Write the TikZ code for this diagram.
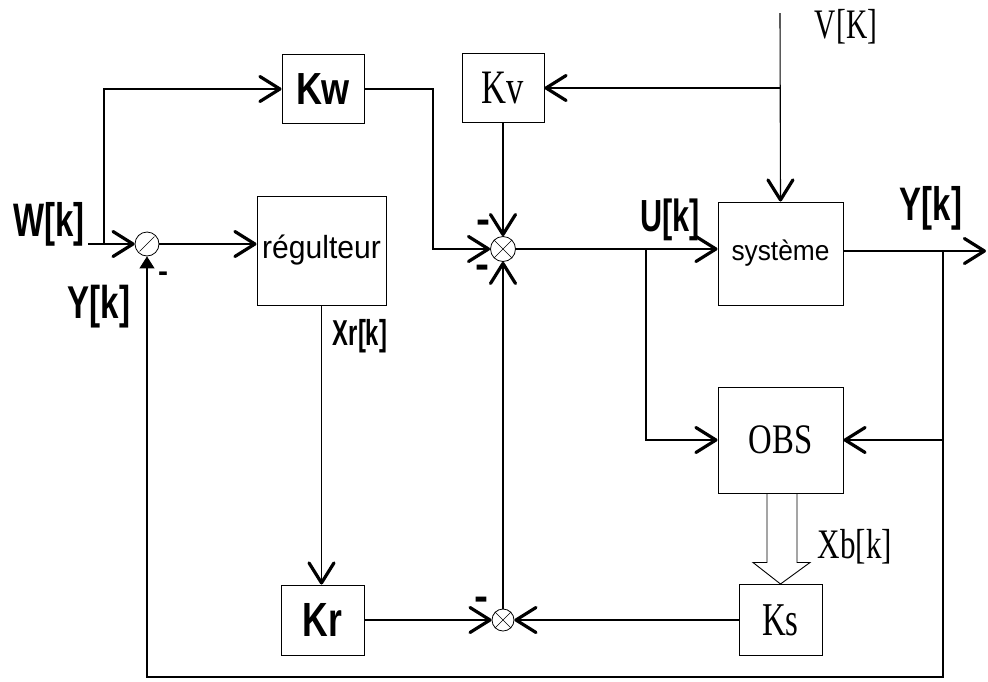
\documentclass[tikz,border=0pt]{standalone}
\usepackage{fontspec}
\setmainfont{Liberation Serif}
\setsansfont{Liberation Sans}
\usetikzlibrary{arrows.meta,calc}
\newcommand\sqz[2]{\scalebox{#1}[1]{#2}}
\newcommand\fs[1]{\fontsize{#1}{#1}\selectfont}
\begin{document}
\begin{tikzpicture}[x=1pt,y=-1pt,
  line width=1.1pt,
  box/.style={draw,line width=1pt,inner sep=0pt,anchor=center},
  sumj/.style={draw,circle,minimum size=24pt,inner sep=0pt,line width=0.8pt},
  barb/.style={-{Straight Barb[length=20pt,width=25pt,line width=3.2pt,round]}},
  tri/.style={-{Triangle[length=12pt,width=15pt]}},
  lab/.style={inner sep=0pt,anchor=center},
  bsans/.style={font=\sffamily\bfseries},
  minus/.style={inner sep=0pt,anchor=center,font=\sffamily\bfseries\fs{42}}]
\useasboundingbox (0,0) rectangle (988,681);

% blocks
\node[box,minimum width=82pt,minimum height=69pt] (kw) at (323,89) {\sffamily\bfseries\fs{45}\sqz{0.8}{Kw}};
\node[box,minimum width=82pt,minimum height=69pt] (kv) at (503,88) {\fs{48}\sqz{0.72}{Kv}};
\node[box,minimum width=129pt,minimum height=109pt] (reg) at (321.5,250.5) {\sffamily\fs{32}\sqz{0.94}{régulteur}};
\node[box,minimum width=125pt,minimum height=103pt] (sys) at (780.5,253.5) {\sffamily\fs{28}\sqz{0.94}{système}};
\node[box,minimum width=125pt,minimum height=106pt] (obs) at (780.5,440) {\fs{42}\sqz{0.78}{OBS}};
\node[box,minimum width=83pt,minimum height=70pt] (kr) at (322.5,620) {\sffamily\bfseries\fs{48}\sqz{0.74}{Kr}};
\node[box,minimum width=83pt,minimum height=71pt] (ks) at (780.5,620) {\fs{47}\sqz{0.7}{Ks}};

% summing junctions
\node[sumj] (s1) at (147,244) {};
\node[sumj,minimum size=25pt] (s2) at (503,249) {};
\node[sumj,minimum size=22pt] (s3) at (503,620) {};
\draw[line width=0.6pt] ($(s1.center)!0.85!(s1.south west)$) -- ($(s1.center)!0.85!(s1.north east)$);
\draw[line width=0.6pt] (s2.north east) -- (s2.south west) (s2.north west) -- (s2.south east);
\draw[line width=0.6pt] (s3.north east) -- (s3.south west) (s3.north west) -- (s3.south east);

% free ends and branch points
\coordinate (win) at (88,244);
\coordinate (jw) at (104,244);
\coordinate (kwc) at (433,89);
\coordinate (vin) at (780,13);
\coordinate (vb) at (780,88);
\coordinate (ut) at (646,249);
\coordinate (yt) at (943,251);
\coordinate (yo) at (943,440);
\coordinate (yb) at (943,677);
\coordinate (yend) at (986,251);

% connectors
\draw[barb] (win) -- (s1.west);
\draw[barb] (jw) |- (kw.west);
\draw[barb] (s1.east) -- (s1.east -| reg.west);
\draw[barb] (kw.east) -- (kwc) |- (s2.west);
\draw[barb] (kv.south) -- (s2.north);
\draw[barb] (vin) -- (sys.north);
\draw[barb] (vb) -- (kv.east);
\draw[barb] (s2.east) -- (s2.east -| sys.west);
\draw[barb] (ut) |- (obs.west);
\draw[barb] (sys.east |- yt) -- (yend);
\draw[tri] (yt) -- (yb) -| (s1.south);
\draw[barb] (yo) -- (obs.east);
\draw[barb] (reg.south) -- (reg.south |- kr.north);
\draw[barb] (kr.east) -- (s3.west);
\draw[barb] (ks.west) -- (s3.east);
\draw[barb] (s3.north) -- (s2.south);
% hollow arrow OBS -> Ks
\draw[line width=0.9pt] ($(obs.south)+(-13.5,0)$) -- ++(0,69) -- ++(-14,0) -- (ks.north)
  -- ($(obs.south)+(29.5,69)$) -- ++(-13,0) -- ($(obs.south)+(16.5,0)$);

% signs
\node[minus,font=\sffamily\bfseries\fs{30}] at (163,277) {-};
\node[minus] at (483,227) {-};
\node[minus] at (482,272) {-};
\node[minus] at (481,604) {-};

% labels
\node[lab] at (49,224) {\sffamily\bfseries\fs{47}\sqz{0.7}{W[k]}};
\node[lab] at (99,307) {\sffamily\bfseries\fs{46}\sqz{0.72}{Y[k]}};
\node[lab] at (360,336) {\sffamily\bfseries\fs{36}\sqz{0.66}{Xr[k]}};
\node[lab] at (670,220) {\sffamily\bfseries\fs{45}\sqz{0.68}{U[k]}};
\node[lab] at (931,208) {\sffamily\bfseries\fs{47}\sqz{0.7}{Y[k]}};
\node[lab] at (846,27) {\fs{42}\sqz{0.7}{V[K]}};
\node[lab] at (855,547) {\fs{42}\sqz{0.74}{Xb[k]}};
\end{tikzpicture}
\end{document}
